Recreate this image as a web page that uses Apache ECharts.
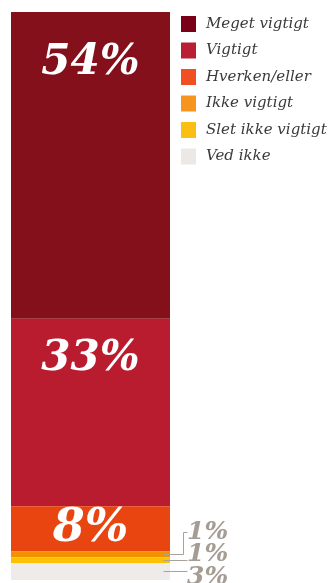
<!DOCTYPE html>
<html>
<head>
<meta charset="utf-8">
<script src="https://cdn.jsdelivr.net/npm/echarts@6/dist/echarts.min.js"></script>
<style>
  html, body { margin: 0; padding: 0; background: #fff; }
  #chart { width: 332px; height: 583px; }
</style>
</head>
<body>
<div id="chart"></div>
<script>
// Survey answers, one stacked column (percent)
const categories = ['I alt'];
const answerNames = ['Meget vigtigt', 'Vigtigt', 'Hverken/eller', 'Ikke vigtigt', 'Slet ikke vigtigt', 'Ved ikke'];
const answerValues = [54, 33, 8, 1, 1, 3];

const barColors = ['#83101a', '#b91c2f', '#e84510', '#f39200', '#fcc100', '#efebe8'];
const legendColors = ['#7a0019', '#b81f35', '#f04e23', '#f7941d', '#fdbe13', '#ebe8e5'];
// distance of the big in-bar labels from the segment top, and their size
const labelDistance = [30, 19, 0];
const labelSize = [42, 42, 46];

const SERIF = "'DejaVu Serif', serif";
const chart = echarts.init(document.getElementById('chart'), null, { renderer: 'canvas' });

const series = answerNames.map((name, i) => ({
  name: name,
  type: 'bar',
  stack: 'total',
  barWidth: '100%',
  data: [answerValues[i]],
  itemStyle: { color: barColors[i] },
  emphasis: { disabled: true },
  label: {
    show: answerValues[i] >= 5,
    position: 'insideTop',
    distance: labelDistance[i] || 0,
    formatter: p => p.value + '%',
    color: '#fff',
    fontFamily: SERIF,
    fontStyle: 'italic',
    fontWeight: 'bold',
    fontSize: labelSize[i] || 42
  }
}));

chart.setOption({
  animation: false,
  grid: { left: 11, top: 12, width: 159, height: 568 },
  xAxis: { type: 'category', data: categories, show: false },
  yAxis: { type: 'value', min: 0, max: 100, inverse: true, show: false },
  legend: {
    orient: 'vertical',
    left: 181,
    top: 16,
    padding: 0,
    itemWidth: 15,
    itemHeight: 16,
    itemGap: 10.5,
    icon: 'rect',
    selectedMode: false,
    data: answerNames.map((n, i) => ({ name: n, itemStyle: { color: legendColors[i] } })),
    textStyle: {
      fontFamily: SERIF,
      fontStyle: 'italic',
      fontSize: 15,
      color: '#3a3a3a',
      padding: [0, 0, 0, 5]
    }
  },
  series: series
});

// Callouts for the thin segments: values placed beside the column with leader lines
function drawCallouts() {
  const small = [];
  let cum = 0;
  answerValues.forEach((v, i) => {
    const top = cum;
    cum += v;
    if (v < 5) {
      const mid = chart.convertToPixel({ gridIndex: 0 }, [categories[0], top + v / 2]);
      small.push({ value: v, y: mid[1] });
    }
  });
  const barRight = chart.convertToPixel({ gridIndex: 0 }, [categories[0], 0])[0] + 159 / 2;
  const gap = 22.5;
  // place labels from the bottom upwards so they never overlap
  let next = Infinity;
  for (let k = small.length - 1; k >= 0; k--) {
    const want = small[k].y + 6;
    small[k].ly = Math.min(want, next - gap);
    next = small[k].ly;
  }
  const lineStart = barRight - 7;
  const elbowX = barRight + 13;
  const textX = barRight + 17;
  const elements = [];
  small.forEach(s => {
    let pts;
    if (Math.abs(s.ly - s.y) > 8) {
      pts = [[lineStart, s.y], [elbowX, s.y], [elbowX, s.ly], [textX, s.ly]];
    } else {
      pts = [[lineStart, s.y], [textX, s.y]];
    }
    elements.push({
      type: 'polyline',
      z: 100,
      shape: { points: pts.map(p => [Math.round(p[0]) + 0.5, Math.round(p[1]) + 0.5]) },
      style: { stroke: '#aaa299', lineWidth: 1, fill: null },
      silent: true
    });
    elements.push({
      type: 'text',
      z: 100,
      x: textX,
      y: s.ly,
      style: {
        text: s.value + '%',
        fill: '#a59c94',
        font: "italic bold 25px 'DejaVu Serif', serif",
        align: 'left',
        verticalAlign: 'middle'
      },
      silent: true
    });
  });
  chart.setOption({ graphic: { elements: elements } });
}
drawCallouts();
</script>
</body>
</html>
